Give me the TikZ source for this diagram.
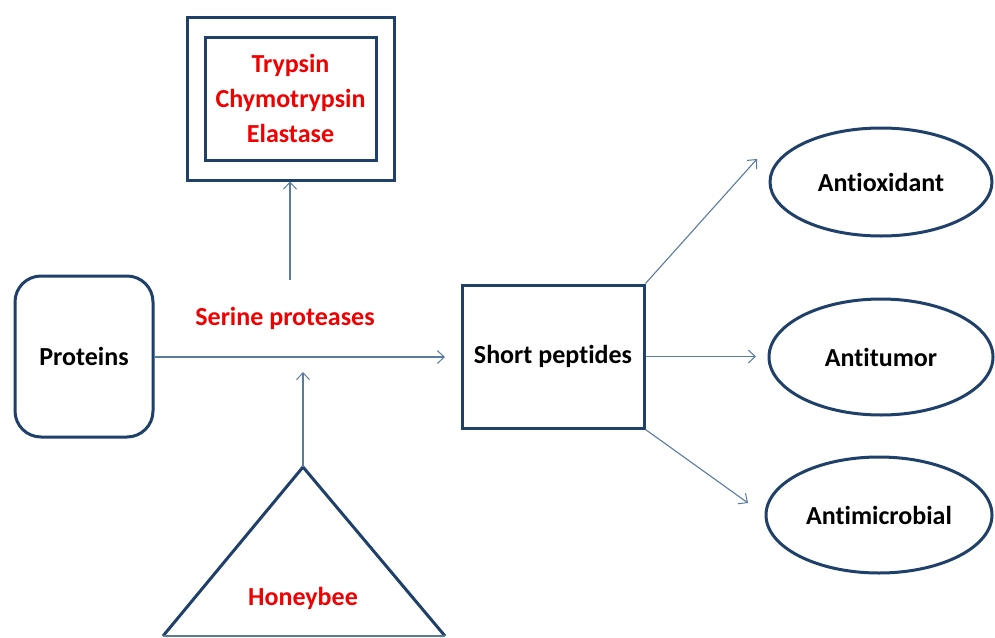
\documentclass[tikz,border=0pt]{standalone}
\usepackage{fontspec}
\setmainfont{Carlito}[Ligatures=NoCommon]
\usetikzlibrary{shapes.geometric,arrows.meta}
\definecolor{frame}{HTML}{1F4068}
\definecolor{conn}{HTML}{5A7BA0}
\definecolor{txtred}{HTML}{F00000}
\begin{document}
\begin{tikzpicture}[x=1pt,y=-1pt,
  lbl/.style={font=\fontsize{26}{31}\selectfont\bfseries},
  redlbl/.style={lbl,text=txtred},
  frm/.style={draw=frame,line width=3pt},
  conar/.style={draw=conn,line width=1.1pt,-{Straight Barb[length=7pt,width=13pt,line width=1pt]}},
  oval/.style={frm,ellipse,inner sep=0pt,lbl}]
\useasboundingbox[fill=white] (0,0) rectangle (995,637);
% top enzyme box
\node[frm,minimum width=207pt,minimum height=163pt,inner sep=0pt] (outer) at (290.5,98.5) {};
\node[frm,minimum width=171pt,minimum height=123pt,inner sep=0pt] (inner) at (290.5,98.5) {};
\node[redlbl,align=center,font=\fontsize{26}{35}\selectfont\bfseries] (enz) at (290.5,98.5) {Trypsin\\Chymotrypsin\\Elastase};
% proteins
\node[frm,rounded corners=26pt,minimum width=138pt,minimum height=161pt,inner sep=0pt,lbl] (prot) at (84,356.5) {Proteins};
\node[redlbl] (serine) at (285,318) {Serine proteases};
% short peptides
\node[frm,minimum width=182pt,minimum height=143pt,inner sep=0pt,lbl] (pep) at (553,356.5) {Short peptides};
% triangle
\coordinate (apex) at (303,467);
\coordinate (bl) at (163,636);
\coordinate (br) at (445,636);
\draw[frm,line join=miter] (bl) -- (apex) -- (br);
\draw[draw=conn,line width=1.5pt] (bl) -- (br);
\node[redlbl] (bee) at (303,598) {Honeybee};
% ellipses
\node[oval,minimum width=222pt,minimum height=108pt] (aox) at (881,182) {Antioxidant};
\node[oval,minimum width=224pt,minimum height=116pt] (atu) at (881,357) {Antitumor};
\node[oval,minimum width=226pt,minimum height=116pt] (ami) at (879,515) {Antimicrobial};
% coordinates for arrows
\coordinate (upfrom) at (290,280);
\coordinate (hend) at (445,357);
\coordinate (uptip) at (303,372);
\coordinate (t1) at (757,159);
\coordinate (t2) at (756,356.5);
\coordinate (t3) at (748,503);
% connectors
\draw[conar] (upfrom) -- (outer.south -| upfrom);
\draw[conar] (prot.east |- hend) -- (hend);
\draw[conar] (apex) -- (uptip);
\draw[conar] (pep.north east) -- (t1);
\draw[conar] (pep.east) -- (t2);
\draw[conar] (pep.south east) -- (t3);
\end{tikzpicture}
\end{document}
